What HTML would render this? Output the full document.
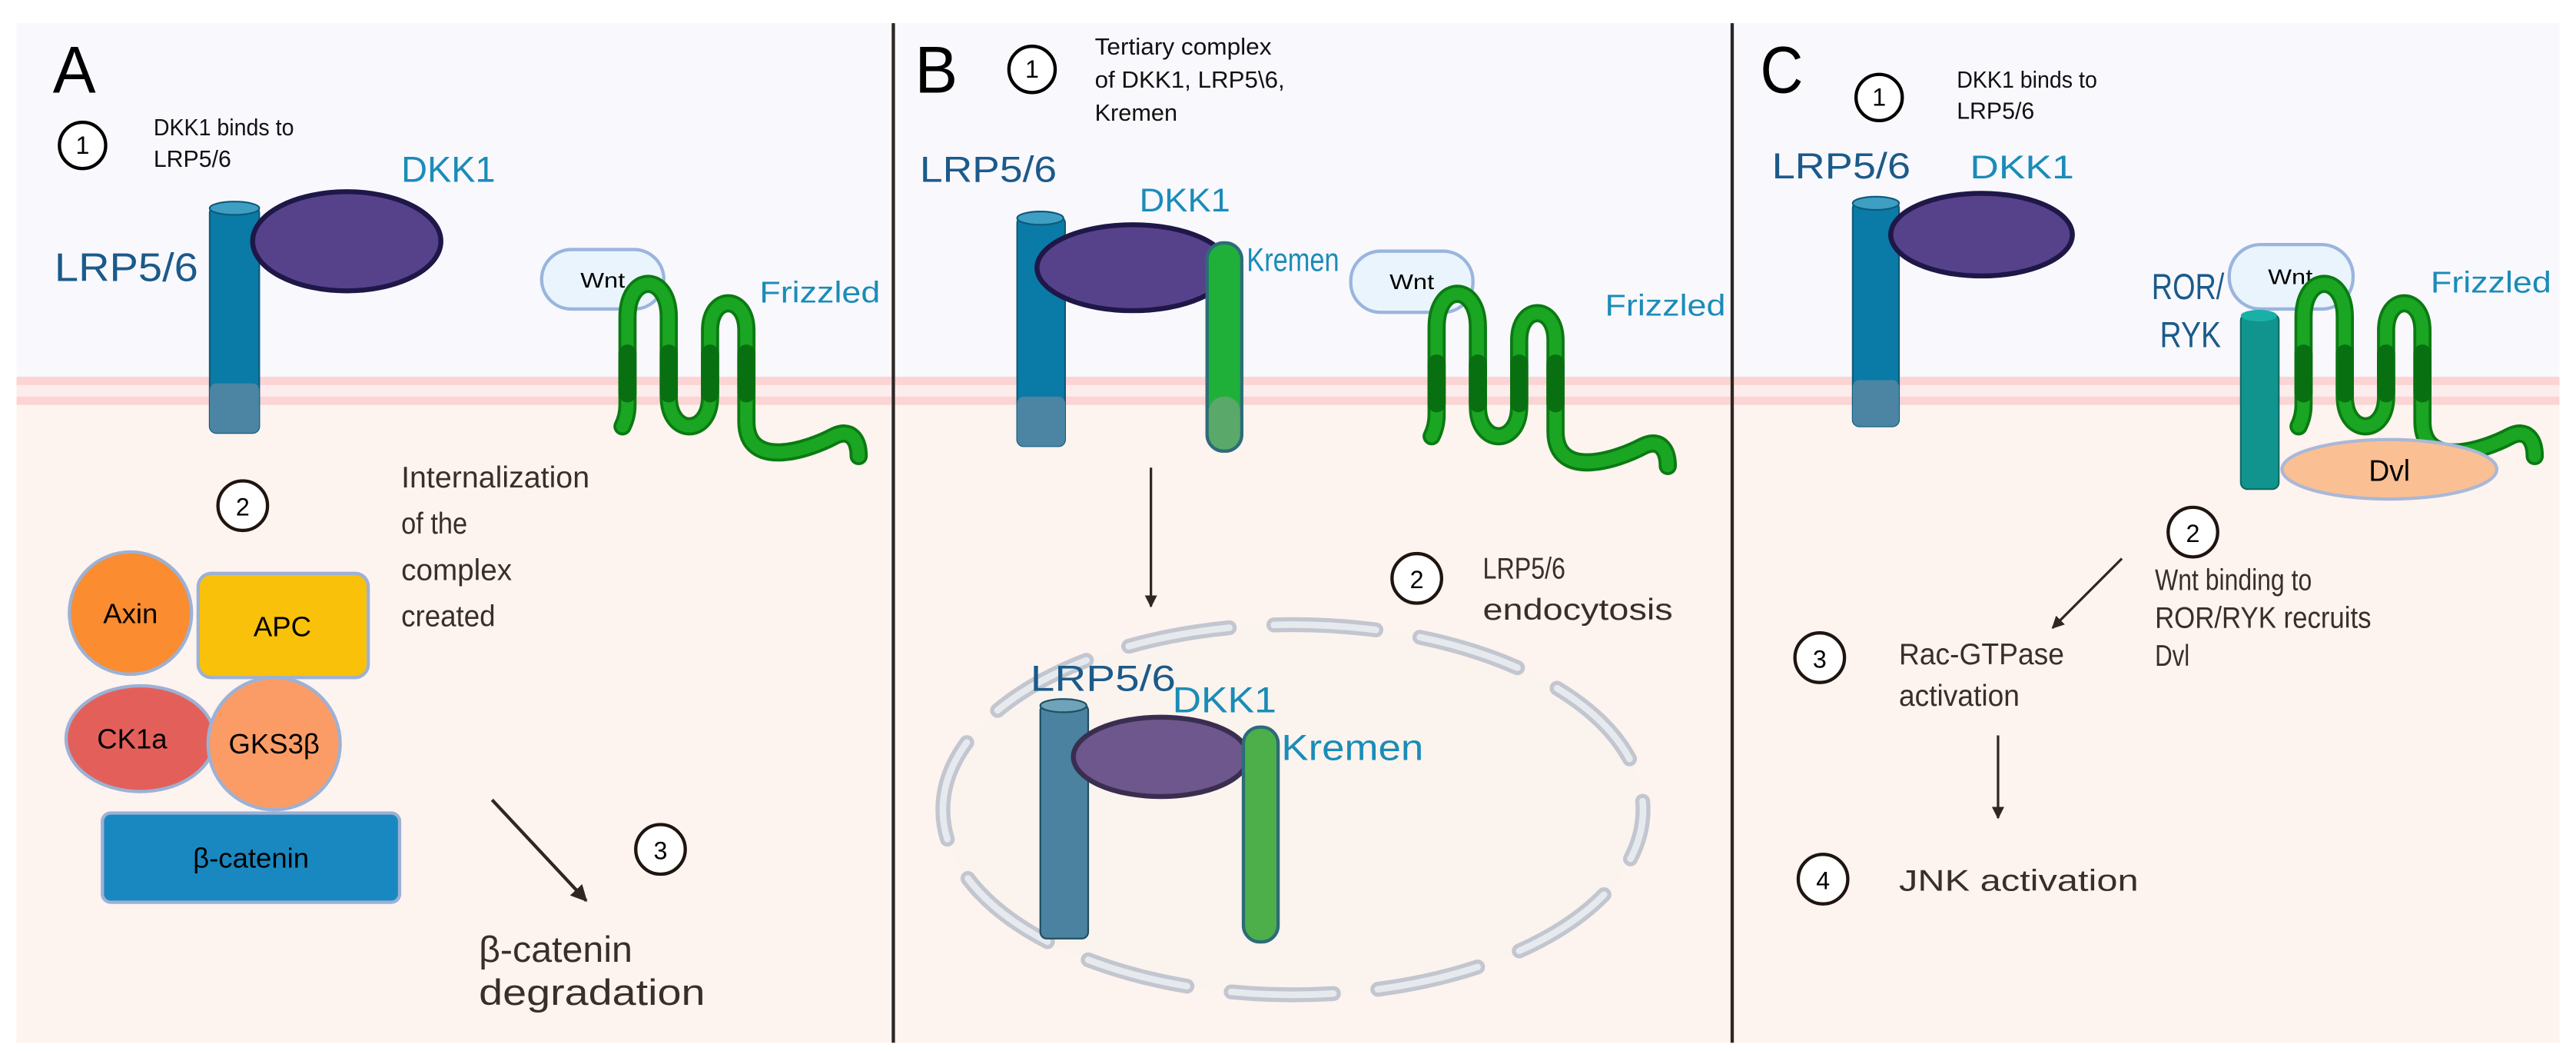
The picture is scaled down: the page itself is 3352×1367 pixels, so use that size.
<!DOCTYPE html>
<html><head><meta charset="utf-8">
<style>
html,body{margin:0;padding:0;background:#fff;}
svg{display:block;}
text{font-family:"Liberation Sans",sans-serif;}
</style></head><body>
<svg width="3352" height="1367" viewBox="0 0 1560 636" preserveAspectRatio="none" xmlns="http://www.w3.org/2000/svg">
<defs>
<g id="fz">
<path d="M377,258 Q380,252 380,245 L380,192 C380,165 405,165 405,192 L405,240 C405,264 430,264 430,240 L430,200 C430,178 452,178 452,200 L452,255 C452,285 490,272 505,264 C515,259 520,266 520,276" fill="none" stroke="#0a7a12" stroke-width="11" stroke-linecap="round" stroke-linejoin="round"/>
<path d="M377,258 Q380,252 380,245 L380,192 C380,165 405,165 405,192 L405,240 C405,264 430,264 430,240 L430,200 C430,178 452,178 452,200 L452,255 C452,285 490,272 505,264 C515,259 520,266 520,276" fill="none" stroke="#1aa522" stroke-width="7.5" stroke-linecap="round" stroke-linejoin="round"/>
<g stroke="#087010" stroke-width="11" stroke-linecap="round">
<line x1="380" y1="214" x2="380" y2="238"/><line x1="405" y1="214" x2="405" y2="238"/>
<line x1="430" y1="214" x2="430" y2="238"/><line x1="452" y1="214" x2="452" y2="238"/>
</g>
</g>
<marker id="ah" viewBox="0 0 10 10" refX="9" refY="5" markerWidth="5" markerHeight="5" orient="auto"><path d="M0,0 L10,5 L0,10 z" fill="#2f2622"/></marker>
</defs>
<rect x="0" y="0" width="1560" height="636" fill="#fff"/>
<rect x="10" y="14" width="1540" height="216" fill="#f9f8fd"/>
<rect x="10" y="245" width="1540" height="386" fill="#fdf3ef"/>
<rect x="10" y="228" width="1540" height="17" fill="#fdecec"/>
<rect x="10" y="228" width="1540" height="5" fill="#fcd4d4"/>
<rect x="10" y="240" width="1540" height="5" fill="#fcd4d4"/>
<line x1="541" y1="14" x2="541" y2="631" stroke="#2b2624" stroke-width="2"/>
<line x1="1049" y1="14" x2="1049" y2="631" stroke="#2b2624" stroke-width="2"/>

<!-- Panel A -->
<text x="32" y="56" font-size="40" fill="#000" textLength="26" lengthAdjust="spacingAndGlyphs">A</text>
<circle cx="50" cy="88" r="14" fill="#fff" stroke="#000" stroke-width="2"/>
<text x="50" y="93" font-size="15" text-anchor="middle">1</text>
<text x="93" y="82" font-size="14" fill="#111" textLength="85" lengthAdjust="spacingAndGlyphs">DKK1 binds to</text>
<text x="93" y="101" font-size="14" fill="#111" textLength="47" lengthAdjust="spacingAndGlyphs">LRP5/6</text>
<text x="33" y="170" font-size="24" fill="#1b5a8a" textLength="87" lengthAdjust="spacingAndGlyphs">LRP5/6</text>
<text x="243" y="110" font-size="22" fill="#1a8cb8" textLength="57" lengthAdjust="spacingAndGlyphs">DKK1</text>
<rect x="127" y="125" width="30" height="137" rx="4" fill="#0a7aa6" stroke="#0c5a7a" stroke-width="1"/>
<rect x="127" y="232" width="30" height="30" rx="4" fill="#4b85a3"/>
<ellipse cx="142" cy="126" rx="15" ry="4" fill="#3e9fc3" stroke="#0c5a7a" stroke-width="1"/>
<ellipse cx="210" cy="146" rx="57" ry="30" fill="#56428a" stroke="#1e1748" stroke-width="3"/>
<rect x="328" y="151" width="74" height="36" rx="18" fill="#eaf4fd" stroke="#9ab5dd" stroke-width="2"/>
<text x="365" y="174" font-size="13" text-anchor="middle" textLength="27" lengthAdjust="spacingAndGlyphs">Wnt</text>
<text x="460" y="183" font-size="18" fill="#1a8cb8" textLength="73" lengthAdjust="spacingAndGlyphs">Frizzled</text>
<use href="#fz"/>
<circle cx="147" cy="306" r="15" fill="#fff" stroke="#1e1410" stroke-width="2"/>
<text x="147" y="312" font-size="15" text-anchor="middle">2</text>
<g font-size="18" fill="#3a2e2a">
<text x="243" y="295" textLength="114" lengthAdjust="spacingAndGlyphs">Internalization</text>
<text x="243" y="323" textLength="40" lengthAdjust="spacingAndGlyphs">of the</text>
<text x="243" y="351" textLength="67" lengthAdjust="spacingAndGlyphs">complex</text>
<text x="243" y="379" textLength="57" lengthAdjust="spacingAndGlyphs">created</text></g>
<circle cx="79" cy="371" r="37" fill="#fb8c30" stroke="#9cb1d5" stroke-width="2"/>
<text x="79" y="377" font-size="17" text-anchor="middle">Axin</text>
<rect x="120" y="347" width="103" height="63" rx="8" fill="#f9c10a" stroke="#9cb1d5" stroke-width="2"/>
<text x="171" y="385" font-size="17" text-anchor="middle">APC</text>
<ellipse cx="85" cy="447" rx="45" ry="32" fill="#e3605a" stroke="#9cb1d5" stroke-width="2"/>
<text x="80" y="453" font-size="17" text-anchor="middle">CK1a</text>
<circle cx="166" cy="450" r="40" fill="#fb9c66" stroke="#9cb1d5" stroke-width="2"/>
<text x="166" y="456" font-size="17" text-anchor="middle">GKS3β</text>
<rect x="62" y="492" width="180" height="54" rx="5" fill="#1a88c0" stroke="#9cb1d5" stroke-width="2"/>
<text x="152" y="525" font-size="17" text-anchor="middle">β-catenin</text>
<line x1="298" y1="484" x2="355" y2="545" stroke="#2f2622" stroke-width="2" marker-end="url(#ah)"/>
<circle cx="400" cy="514" r="15" fill="#fff" stroke="#1e1410" stroke-width="2"/>
<text x="400" y="520" font-size="15" text-anchor="middle">3</text>
<text x="290" y="582" font-size="22" fill="#3a2e2a" textLength="93" lengthAdjust="spacingAndGlyphs">β-catenin</text>
<text x="290" y="608" font-size="22" fill="#3a2e2a" textLength="137" lengthAdjust="spacingAndGlyphs">degradation</text>

<!-- Panel B -->
<text x="554" y="56" font-size="40" textLength="26" lengthAdjust="spacingAndGlyphs">B</text>
<circle cx="625" cy="42" r="14" fill="#fff" stroke="#000" stroke-width="2"/>
<text x="625" y="47" font-size="15" text-anchor="middle">1</text>
<text x="663" y="33" font-size="14" fill="#111" textLength="107" lengthAdjust="spacingAndGlyphs">Tertiary complex</text>
<text x="663" y="53" font-size="14" fill="#111" textLength="115" lengthAdjust="spacingAndGlyphs">of DKK1, LRP5\6,</text>
<text x="663" y="73" font-size="14" fill="#111" textLength="50" lengthAdjust="spacingAndGlyphs">Kremen</text>
<text x="557" y="110" font-size="22" fill="#1b5a8a" textLength="83" lengthAdjust="spacingAndGlyphs">LRP5/6</text>
<text x="690" y="128" font-size="20" fill="#1a8cb8" textLength="55" lengthAdjust="spacingAndGlyphs">DKK1</text>
<text x="755" y="164" font-size="20" fill="#1a8cb8" textLength="56" lengthAdjust="spacingAndGlyphs">Kremen</text>
<rect x="616" y="131" width="29" height="139" rx="4" fill="#0a7aa6" stroke="#0c5a7a" stroke-width="1"/>
<rect x="616" y="240" width="29" height="30" rx="4" fill="#4b85a3"/>
<ellipse cx="630" cy="132" rx="14" ry="4" fill="#3e9fc3" stroke="#0c5a7a" stroke-width="1"/>
<ellipse cx="686" cy="162" rx="58" ry="26" fill="#56428a" stroke="#1e1748" stroke-width="3"/>
<rect x="731" y="147" width="21" height="126" rx="10" fill="#1fb03a" stroke="#2e6b7a" stroke-width="2"/>
<rect x="732" y="240" width="19" height="32" rx="9" fill="#5aa86a"/>
<rect x="818" y="152" width="74" height="37" rx="18" fill="#eaf4fd" stroke="#9ab5dd" stroke-width="2"/>
<text x="855" y="175" font-size="13" text-anchor="middle" textLength="27" lengthAdjust="spacingAndGlyphs">Wnt</text>
<text x="972" y="191" font-size="18" fill="#1a8cb8" textLength="73" lengthAdjust="spacingAndGlyphs">Frizzled</text>
<use href="#fz" transform="translate(490,6)"/>
<line x1="697" y1="283" x2="697" y2="367" stroke="#2f2622" stroke-width="1.5" marker-end="url(#ah)"/>
<circle cx="858" cy="350" r="15" fill="#fff" stroke="#1e1410" stroke-width="2"/>
<text x="858" y="356" font-size="15" text-anchor="middle">2</text>
<text x="898" y="350" font-size="18" fill="#3a2e2a" textLength="50" lengthAdjust="spacingAndGlyphs">LRP5/6</text>
<text x="898" y="375" font-size="18" fill="#3a2e2a" textLength="115" lengthAdjust="spacingAndGlyphs">endocytosis</text>
<ellipse cx="783" cy="490" rx="212" ry="112" fill="#fbf3ee"/>
<ellipse cx="783" cy="490" rx="212" ry="112" fill="none" stroke="#c2c6cf" stroke-width="9" stroke-dasharray="62 27" stroke-linecap="round" stroke-dashoffset="31"/>
<ellipse cx="783" cy="490" rx="212" ry="112" fill="none" stroke="#e6e9ee" stroke-width="4" stroke-dasharray="62 27" stroke-linecap="round" stroke-dashoffset="31"/>
<rect x="630" y="426" width="29" height="142" rx="4" fill="#4a82a0" stroke="#1d4d60" stroke-width="1"/>
<ellipse cx="644" cy="427" rx="14" ry="4" fill="#6ea3ba" stroke="#1d4d60" stroke-width="1"/>
<ellipse cx="703" cy="458" rx="53" ry="24" fill="#6e578c" stroke="#3a2e50" stroke-width="3"/>
<rect x="753" y="440" width="21" height="130" rx="10" fill="#4caf4a" stroke="#2e6b7a" stroke-width="2"/>
<text x="624" y="418" font-size="22" fill="#1b5a8a" textLength="88" lengthAdjust="spacingAndGlyphs">LRP5/6</text>
<text x="710" y="431" font-size="22" fill="#1a8cb8" textLength="63" lengthAdjust="spacingAndGlyphs">DKK1</text>
<text x="776" y="460" font-size="22" fill="#1a8cb8" textLength="86" lengthAdjust="spacingAndGlyphs">Kremen</text>

<!-- Panel C -->
<text x="1066" y="56" font-size="40" textLength="26" lengthAdjust="spacingAndGlyphs">C</text>
<circle cx="1138" cy="59" r="14" fill="#fff" stroke="#000" stroke-width="2"/>
<text x="1138" y="64" font-size="15" text-anchor="middle">1</text>
<text x="1185" y="53" font-size="14" fill="#111" textLength="85" lengthAdjust="spacingAndGlyphs">DKK1 binds to</text>
<text x="1185" y="72" font-size="14" fill="#111" textLength="47" lengthAdjust="spacingAndGlyphs">LRP5/6</text>
<text x="1073" y="108" font-size="22" fill="#1b5a8a" textLength="84" lengthAdjust="spacingAndGlyphs">LRP5/6</text>
<text x="1193" y="108" font-size="20" fill="#1a8cb8" textLength="63" lengthAdjust="spacingAndGlyphs">DKK1</text>
<rect x="1122" y="122" width="28" height="136" rx="4" fill="#0a7aa6" stroke="#0c5a7a" stroke-width="1"/>
<rect x="1122" y="230" width="28" height="28" rx="4" fill="#4b85a3"/>
<ellipse cx="1136" cy="123" rx="14" ry="4" fill="#3e9fc3" stroke="#0c5a7a" stroke-width="1"/>
<ellipse cx="1200" cy="142" rx="55" ry="25" fill="#56428a" stroke="#1e1748" stroke-width="3"/>
<text x="1303" y="181" font-size="22" fill="#1b5a8a" textLength="44" lengthAdjust="spacingAndGlyphs">ROR/</text>
<text x="1308" y="210" font-size="22" fill="#1b5a8a" textLength="37" lengthAdjust="spacingAndGlyphs">RYK</text>
<rect x="1350" y="148" width="75" height="39" rx="19" fill="#eaf4fd" stroke="#9ab5dd" stroke-width="2"/>
<text x="1387" y="172" font-size="13" text-anchor="middle" textLength="27" lengthAdjust="spacingAndGlyphs">Wnt</text>
<text x="1472" y="177" font-size="18" fill="#1a8cb8" textLength="73" lengthAdjust="spacingAndGlyphs">Frizzled</text>
<use href="#fz" transform="translate(1015,0)"/>
<rect x="1357" y="190" width="23" height="106" rx="4" fill="#12948e" stroke="#0d6b66" stroke-width="1"/>
<ellipse cx="1368" cy="191" rx="11" ry="3.5" fill="#19b0a8"/>
<ellipse cx="1447" cy="284" rx="65" ry="18" fill="#fbbf94" stroke="#a9b8d6" stroke-width="2"/>
<text x="1447" y="291" font-size="18" text-anchor="middle" textLength="25" lengthAdjust="spacingAndGlyphs">Dvl</text>
<circle cx="1328" cy="322" r="15" fill="#fff" stroke="#1e1410" stroke-width="2"/>
<text x="1328" y="328" font-size="15" text-anchor="middle">2</text>
<g font-size="18" fill="#3a2e2a">
<text x="1305" y="357" textLength="95" lengthAdjust="spacingAndGlyphs">Wnt binding to</text>
<text x="1305" y="380" textLength="131" lengthAdjust="spacingAndGlyphs">ROR/RYK recruits</text>
<text x="1305" y="403" textLength="21" lengthAdjust="spacingAndGlyphs">Dvl</text></g>
<line x1="1285" y1="338" x2="1243" y2="380" stroke="#2f2622" stroke-width="1.5" marker-end="url(#ah)"/>
<circle cx="1102" cy="398" r="15" fill="#fff" stroke="#1e1410" stroke-width="2"/>
<text x="1102" y="404" font-size="15" text-anchor="middle">3</text>
<text x="1150" y="402" font-size="18" fill="#3a2e2a" textLength="100" lengthAdjust="spacingAndGlyphs">Rac-GTPase</text>
<text x="1150" y="427" font-size="18" fill="#3a2e2a" textLength="73" lengthAdjust="spacingAndGlyphs">activation</text>
<line x1="1210" y1="445" x2="1210" y2="495" stroke="#2f2622" stroke-width="1.5" marker-end="url(#ah)"/>
<circle cx="1104" cy="532" r="15" fill="#fff" stroke="#1e1410" stroke-width="2"/>
<text x="1104" y="538" font-size="15" text-anchor="middle">4</text>
<text x="1150" y="539" font-size="18" fill="#3a2e2a" textLength="145" lengthAdjust="spacingAndGlyphs">JNK activation</text>
</svg>
</body></html>
